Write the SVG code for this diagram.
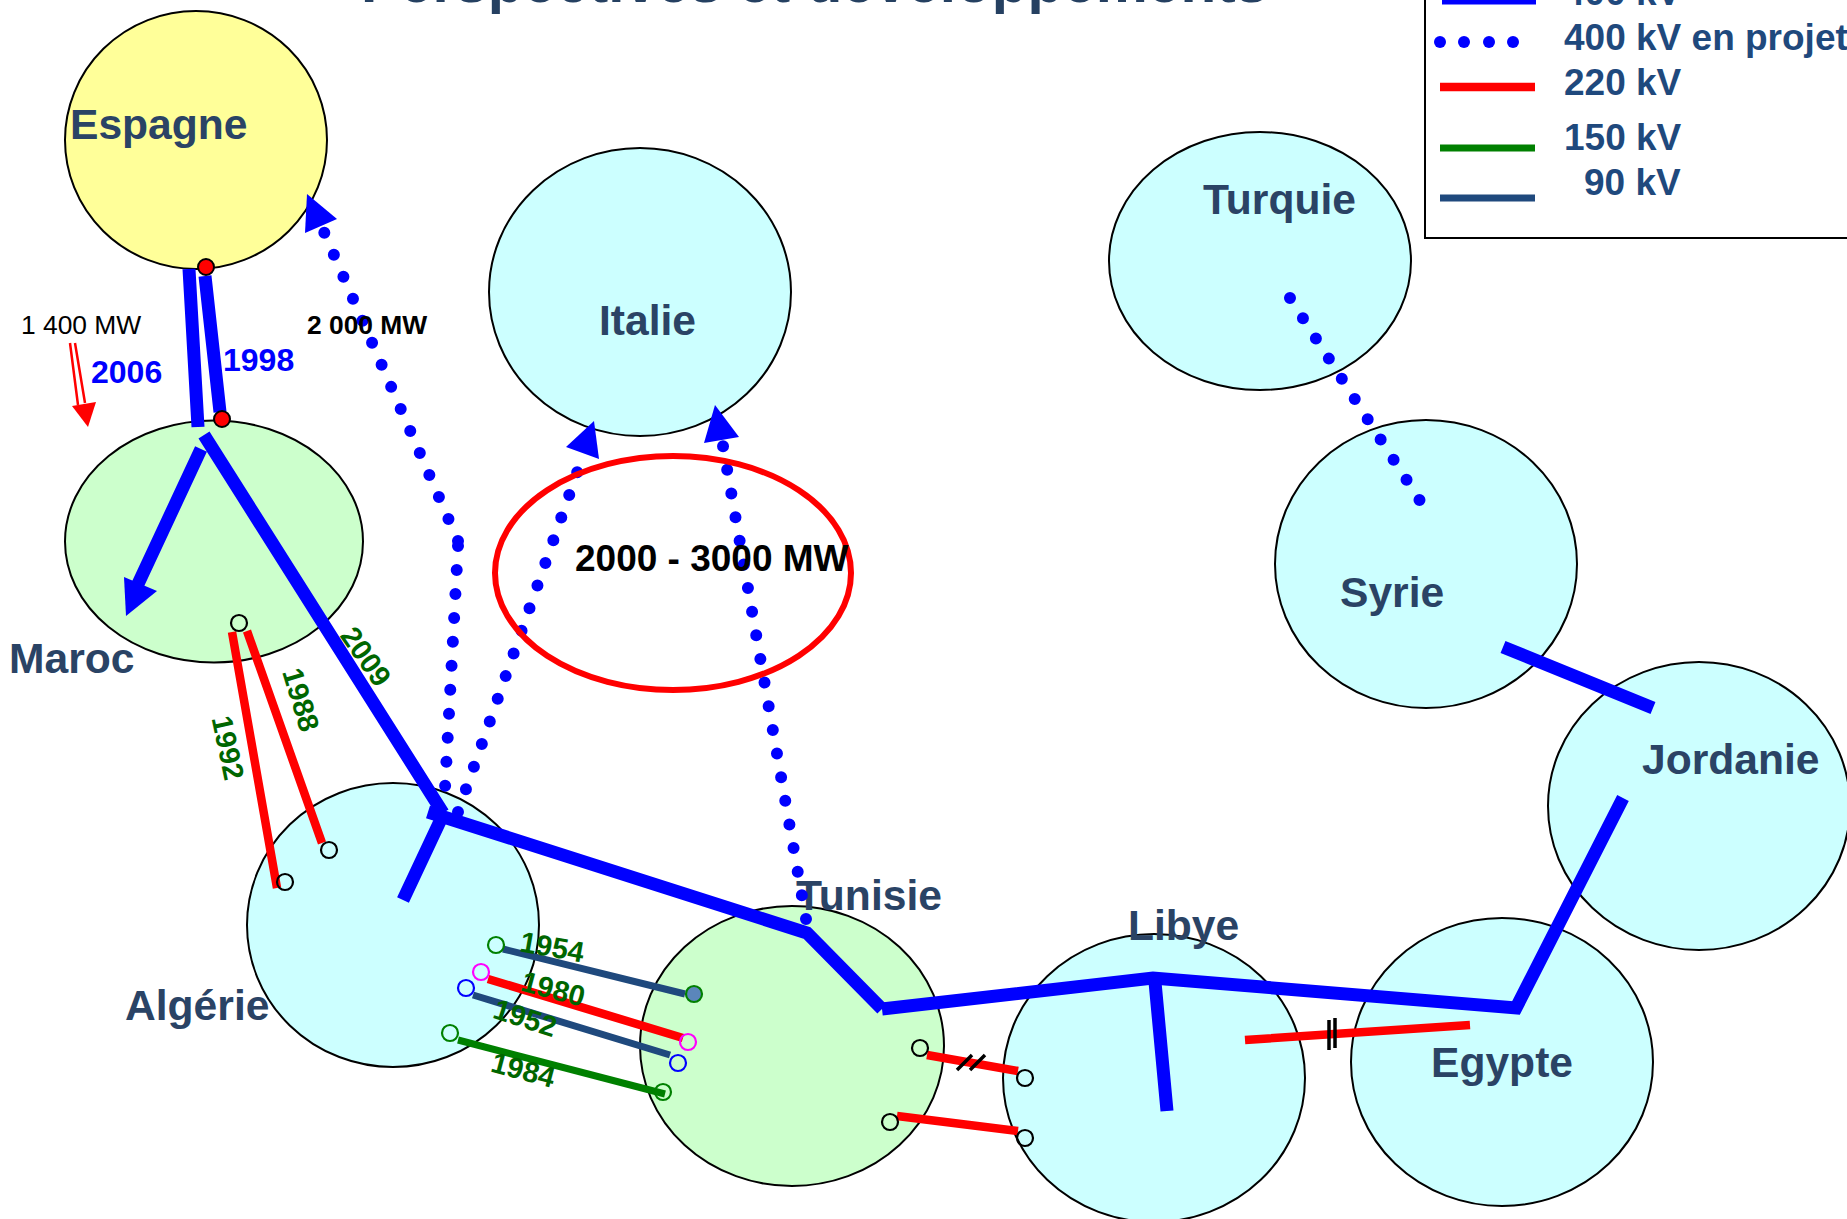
<svg xmlns="http://www.w3.org/2000/svg" width="1847" height="1219" viewBox="0 0 1847 1219">
<style>
text{font-family:"Liberation Sans",Arial,sans-serif;font-weight:700}
.n{fill:#2a4365;font-size:42.6px}
.l{fill:#1f497d;font-size:37px}
.c{stroke:#000;stroke-width:2}
.cy{fill:#ccffff}.gr{fill:#ccffcc}
.b{stroke:#0000ff;stroke-width:13;fill:none}
.d{stroke:#0000ff;stroke-width:12;fill:none;stroke-linecap:round;stroke-dasharray:0 24}
.r{stroke:#ff0000;stroke-width:8.5;fill:none}
.nv{stroke:#1f497d;stroke-width:7;fill:none}
.g{stroke:#008000;stroke-width:7;fill:none}
.o{fill:none;stroke-width:2.2;stroke:#000}
.y{fill:#006600;font-size:29px}
.t{stroke:#000;stroke-width:3.5;fill:none}
</style>
<text x="361" y="2" font-size="58.5" fill="#254061">Perspectives et développements</text>
<g id="legend">
<rect x="1425" y="-20" width="460" height="258" fill="#fff" stroke="#000" stroke-width="2"/>
<line class="b" x1="1442" y1="-2" x2="1536" y2="-2" stroke-width="6"/>
<circle cx="1440" cy="42" r="6" fill="#00f"/><circle cx="1464" cy="42" r="6" fill="#00f"/><circle cx="1489" cy="42" r="6" fill="#00f"/><circle cx="1513" cy="42" r="6" fill="#00f"/>
<line class="r" x1="1440" y1="87" x2="1535" y2="87"/>
<line class="g" x1="1440" y1="148" x2="1535" y2="148" stroke-width="6"/>
<line class="nv" x1="1440" y1="198" x2="1535" y2="198" stroke-width="6"/>
<text class="l" x="1564" y="5">400 kV</text>
<text class="l" x="1564" y="50">400 kV en projet</text>
<text class="l" x="1564" y="95">220 kV</text>
<text class="l" x="1564" y="150">150 kV</text>
<text class="l" x="1584" y="195">90 kV</text>
</g>
<g id="espagne"><ellipse class="c" cx="196" cy="140" rx="131" ry="129" fill="#ffff99"/><text class="n" x="70" y="139">Espagne</text></g>
<g id="italie"><ellipse class="c cy" cx="640" cy="292" rx="151" ry="144"/><text class="n" x="599" y="335">Italie</text></g>
<g id="turquie"><ellipse class="c cy" cx="1260" cy="261" rx="151" ry="129"/><text class="n" x="1203" y="214">Turquie</text></g>
<g id="syrie"><ellipse class="c cy" cx="1426" cy="564" rx="151" ry="144"/><text class="n" x="1340" y="607">Syrie</text></g>
<g id="jordanie"><ellipse class="c cy" cx="1699" cy="806" rx="151" ry="144"/><text class="n" x="1642" y="774">Jordanie</text></g>
<g id="egypte"><ellipse class="c cy" cx="1502" cy="1062" rx="151" ry="144"/><text class="n" x="1431" y="1077">Egypte</text></g>
<g id="libye"><ellipse class="c cy" cx="1154" cy="1078" rx="151" ry="144"/><text class="n" x="1128" y="940">Libye</text></g>
<g id="tunisie"><ellipse class="c gr" cx="792" cy="1046" rx="152" ry="140"/><text class="n" x="796" y="910">Tunisie</text></g>
<g id="algerie"><ellipse class="c cy" cx="393" cy="925" rx="146" ry="142"/><text class="n" x="125" y="1020">Algérie</text></g>
<g id="maroc"><ellipse class="c gr" cx="214" cy="541.5" rx="149" ry="121"/><text class="n" x="9" y="673">Maroc</text></g>
<g id="connectors">
<path class="b" d="M189 269L198 427M205 276L220 412M204 435L443 813M201 449L138 584"/>
<polygon points="126,616 124,577 157,591" fill="#00f"/>
<path class="b" d="M428 812L807 933L882 1009"/>
<path class="b" d="M882 1009L1153 978L1516 1008L1623 798"/>
<path class="b" d="M442 817L403 900M1155 982L1167 1111M1503 647L1653 708"/>
<path class="d" d="M458 546L445 788"/>
<path class="d" d="M458 541L324 232"/>
<polygon points="307,194 305,233 337,219" fill="#00f"/>
<path class="d" d="M458 812L585 450"/>
<polygon points="594,421 566,447 599,459" fill="#00f"/>
<path class="d" d="M806 919L723 446"/>
<polygon points="715,405 704,443 739,437" fill="#00f"/>
<path class="d" d="M1290 298L1422 504"/>
<path class="r" d="M232 632L277 888M247 631L322 843M488 979L683 1038M927 1055L1018 1071M897 1116L1018 1131M1245 1040L1470 1025"/>
<path class="nv" d="M503 949L685 994M473 995L670 1055"/>
<path class="g" d="M458 1040L665 1094"/>
<path class="t" d="M957 1070L972 1055M970 1070L985 1055M1329 1020L1329 1050M1335 1018L1335 1048"/>
<circle class="o" cx="239" cy="623" r="8"/><circle class="o" cx="329" cy="850" r="8"/><circle class="o" cx="285" cy="882" r="8"/>
<circle class="o" cx="496" cy="945" r="8" style="stroke:#008000"/><circle cx="694" cy="994" r="8" fill="#5b86bb" stroke="#008000" stroke-width="2.2"/>
<circle class="o" cx="481" cy="972" r="8" style="stroke:#ff00ff"/><circle class="o" cx="688" cy="1042" r="8" style="stroke:#ff00ff"/>
<circle class="o" cx="466" cy="988" r="8" style="stroke:#0000ff"/><circle class="o" cx="678" cy="1063" r="8" style="stroke:#0000ff"/>
<circle class="o" cx="450" cy="1033" r="8" style="stroke:#008000"/><circle class="o" cx="663" cy="1092" r="8" style="stroke:#008000"/>
<circle class="o" cx="920" cy="1048" r="8"/><circle class="o" cx="890" cy="1122" r="8"/><circle class="o" cx="1025" cy="1078" r="8"/><circle class="o" cx="1025" cy="1138" r="8"/>
<circle cx="206" cy="267" r="8" fill="#f00" stroke="#000" stroke-width="2"/><circle cx="222" cy="419" r="8" fill="#f00" stroke="#000" stroke-width="2"/>
<path d="M70 343L78 405M75 343L85 403" stroke="#f00" stroke-width="2.5" fill="none"/>
<polygon points="88,427 72,406 96,402" fill="#f00"/>
</g>
<g id="ellipse-mw"><ellipse cx="673" cy="573" rx="178" ry="117" fill="none" stroke="#f00" stroke-width="6"/><text x="575" y="571" font-size="37" fill="#000">2000 - 3000 MW</text></g>
<g id="labels">
<text x="21" y="334" font-size="26.4" style="font-weight:400">1 400 MW</text>
<text x="307" y="334" font-size="26.4">2 000 MW</text>
<text x="91" y="383" font-size="32" fill="#00f">2006</text>
<text x="223" y="371" font-size="32" fill="#00f">1998</text>
<text class="y" text-anchor="middle" transform="translate(365,657) rotate(55) translate(0,9)">2009</text>
<text class="y" text-anchor="middle" transform="translate(300,700) rotate(73) translate(0,9)">1988</text>
<text class="y" text-anchor="middle" transform="translate(227,748) rotate(78) translate(0,9)">1992</text>
<text class="y" text-anchor="middle" transform="translate(552,948) rotate(10) translate(0,9)">1954</text>
<text class="y" text-anchor="middle" transform="translate(553,990) rotate(15) translate(0,9)">1980</text>
<text class="y" text-anchor="middle" transform="translate(525,1019) rotate(18) translate(0,9)">1952</text>
<text class="y" text-anchor="middle" transform="translate(523,1071) rotate(15) translate(0,9)">1984</text>
</g>
</svg>
